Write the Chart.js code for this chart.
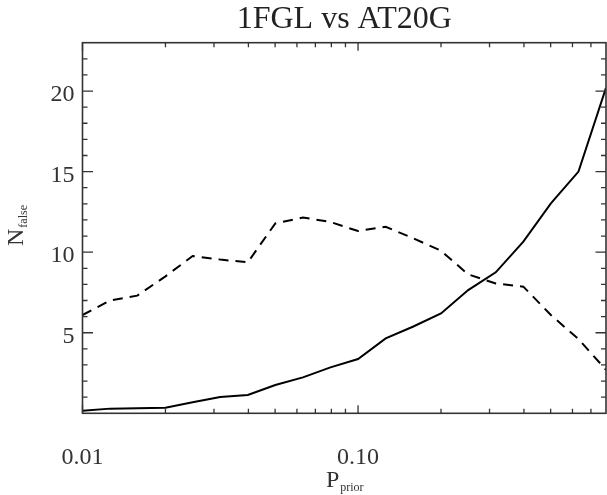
<!DOCTYPE html>
<html>
<head>
<meta charset="utf-8">
<title>1FGL vs AT20G</title>
<script src="https://cdn.jsdelivr.net/npm/chart.js@4.4.1/dist/chart.umd.min.js"></script>
<style>
    body { margin: 0; background: #fff; }
    #chart { display: block; }
</style>
</head>
<body>
<canvas id="chart" width="607" height="495"></canvas>
<script>
// Prior probability grid (0.1 dex steps)
const pPrior = [0.01, 0.0126, 0.0158, 0.02, 0.0251, 0.0316, 0.0398, 0.0501, 0.0631, 0.0794,
                0.1, 0.126, 0.158, 0.2, 0.251, 0.316, 0.398, 0.501, 0.631, 0.794];

// Solid curve
const nFalseSolid = [0.16, 0.29, 0.32, 0.35, 0.68, 1.01, 1.14, 1.76, 2.23, 2.85,
                     3.37, 4.65, 5.37, 6.2, 7.65, 8.75, 10.65, 13.03, 15.0, 20.2];

// Dashed curve
const nFalseDashed = [6.1, 7.0, 7.3, 8.5, 9.76, 9.54, 9.37, 11.79, 12.15, 11.87,
                      11.31, 11.58, 10.87, 10.09, 8.62, 8.06, 7.86, 6.1, 4.6, 2.7];

// Axis ticks
const xMajorTicks = [0.01, 0.1];
const xTickLabels = ['0.01', '0.10'];
const xMinorTicks = [0.02, 0.03, 0.04, 0.05, 0.06, 0.07, 0.08, 0.09,
                     0.2, 0.3, 0.4, 0.5, 0.6, 0.7];
const yMajorTicks = [5, 10, 15, 20];

const serif = '"Liberation Serif", "Times New Roman", serif';
const inkColor = '#333';

// Draws the box and inward-pointing ticks on all four sides
const frameTicks = {
    id: 'frameTicks',
    afterDatasetsDraw(chart) {
        const { ctx, chartArea: a, scales: { x, y } } = chart;
        ctx.save();
        ctx.strokeStyle = inkColor;
        ctx.lineWidth = 1.6;
        ctx.strokeRect(a.left, a.top, a.right - a.left, a.bottom - a.top);

        ctx.lineWidth = 1.3;
        ctx.beginPath();
        xMajorTicks.concat(xMinorTicks).forEach(v => {
            const px = x.getPixelForValue(v);
            const len = xMajorTicks.includes(v) ? 8 : 4.5;
            ctx.moveTo(px, a.bottom); ctx.lineTo(px, a.bottom - len);
            ctx.moveTo(px, a.top); ctx.lineTo(px, a.top + len);
        });
        y.ticks.forEach(t => {
            if (t.value <= y.min || t.value >= y.max) return;
            const py = y.getPixelForValue(t.value);
            const len = t.value % 5 === 0 ? 10.5 : 5;
            ctx.moveTo(a.left, py); ctx.lineTo(a.left + len, py);
            ctx.moveTo(a.right, py); ctx.lineTo(a.right - len, py);
        });
        ctx.stroke();
        ctx.restore();
    }
};

// Axis titles with subscripts
const axisTitles = {
    id: 'axisTitles',
    afterDraw(chart) {
        const { ctx, chartArea: a } = chart;
        ctx.save();
        ctx.fillStyle = inkColor;
        ctx.textBaseline = 'alphabetic';

        // x title: P_prior
        ctx.font = '24px ' + serif;
        const pW = ctx.measureText('P').width;
        ctx.font = '12px ' + serif;
        const subW = ctx.measureText('prior').width;
        const cx = (a.left + a.right) / 2;
        let x0 = cx - (pW + subW) / 2;
        ctx.font = '24px ' + serif;
        ctx.fillText('P', x0, 487);
        ctx.font = '12px ' + serif;
        ctx.fillText('prior', x0 + pW + 1, 491);

        // y title: N_false, rotated
        ctx.translate(23, (a.top + a.bottom) / 2 + 18);
        ctx.rotate(-Math.PI / 2);
        ctx.font = '24px ' + serif;
        const nW = ctx.measureText('N').width;
        ctx.fillText('N', 0, 0);
        ctx.font = '12px ' + serif;
        ctx.fillText('false', nW + 1, 4);
        ctx.restore();
    }
};

const ctx = document.getElementById('chart').getContext('2d');
new Chart(ctx, {
    type: 'line',
    data: {
        datasets: [
            {
                label: 'solid',
                data: pPrior.map((p, i) => ({ x: p, y: nFalseSolid[i] })),
                borderColor: '#000',
                borderWidth: 2,
                pointRadius: 0,
                tension: 0
            },
            {
                label: 'dashed',
                data: pPrior.map((p, i) => ({ x: p, y: nFalseDashed[i] })),
                borderColor: '#000',
                borderWidth: 2,
                borderDash: [10, 7],
                pointRadius: 0,
                tension: 0
            }
        ]
    },
    options: {
        responsive: false,
        animation: false,
        layout: { padding: { top: 0, right: 1, left: 0, bottom: 0 } },
        plugins: {
            legend: { display: false },
            tooltip: { enabled: false },
            title: {
                display: true,
                fullSize: false,
                text: '1FGL vs AT20G',
                color: '#222',
                font: { family: serif, size: 32, weight: 'normal', lineHeight: 1.2 },
                padding: { top: 0, bottom: 4.3 }
            }
        },
        scales: {
            x: {
                type: 'logarithmic',
                min: 0.01,
                max: 0.794,
                grid: { display: false, drawTicks: false },
                border: { display: false },
                afterBuildTicks: scale => {
                    scale.ticks = xMajorTicks.concat(xMinorTicks)
                        .sort((a, b) => a - b)
                        .map(v => ({ value: v }));
                },
                afterFit: scale => {
                    scale.height = 81.7;
                    scale.paddingRight = 0;
                },
                ticks: {
                    autoSkip: false,
                    maxRotation: 0,
                    padding: 30,
                    color: inkColor,
                    font: { family: serif, size: 24 },
                    callback: value => {
                        const i = xMajorTicks.indexOf(value);
                        return i >= 0 ? xTickLabels[i] : '';
                    }
                }
            },
            y: {
                min: 0,
                max: 23,
                grid: { display: false, drawTicks: false },
                border: { display: false },
                afterFit: scale => { scale.width = 82.5; },
                ticks: {
                    stepSize: 1,
                    autoSkip: false,
                    padding: 8,
                    labelOffset: 4,
                    color: inkColor,
                    font: { family: serif, size: 24 },
                    callback: value => yMajorTicks.includes(value) ? String(value) : ''
                }
            }
        }
    },
    plugins: [frameTicks, axisTitles]
});
</script>
</body>
</html>
